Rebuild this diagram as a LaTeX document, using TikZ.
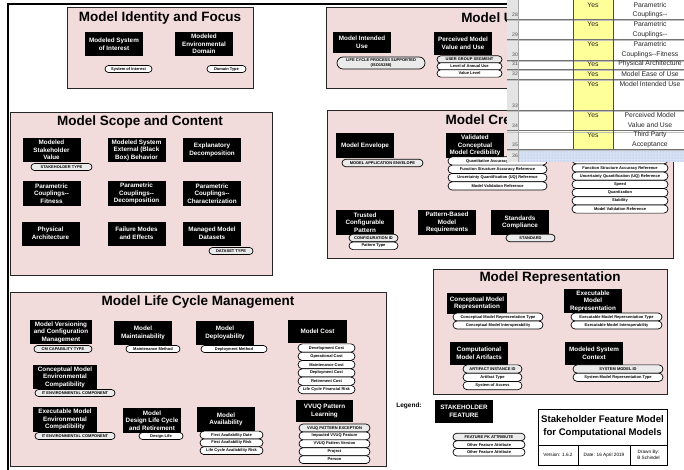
\documentclass[tikz,border=0pt]{standalone}
\usepackage{fontspec}
\setmainfont{Liberation Sans}
\usetikzlibrary{shapes.misc,patterns}
\definecolor{secpink}{RGB}{242,220,219}
\definecolor{xlyellow}{RGB}{255,255,153}
\definecolor{xlgrey}{RGB}{228,228,228}
\definecolor{xlhatch}{RGB}{214,226,242}
\tikzset{
 secbox/.style={draw=black!85, line width=0.9pt, fill=secpink, inner sep=0pt},
 sectitle/.style={font=\bfseries\fontsize{13.5}{15}\selectfont, inner sep=0pt},
 featbox/.style={fill=black, text=white, align=center, inner sep=0pt, font=\bfseries\fontsize{6.3}{7.6}\selectfont},
 pillbox/.style={rounded rectangle, draw=black, line width=0.7pt, fill=white, inner sep=0pt, align=center, font=\bfseries\fontsize{4}{4.6}\selectfont},
 pkpill/.style={pillbox, fill=black!8},
 xltext/.style={font=\fontsize{6.8}{8}\selectfont, inner sep=0pt, text=black!85},
 xlnum/.style={font=\fontsize{5}{6}\selectfont, inner sep=0pt, anchor=east, text=black!70},
 xlrow/.style={draw=black!55, line width=0.6pt},
 xlrowlite/.style={draw=black!25, line width=0.5pt},
 xlcol/.style={draw=black!70, line width=0.6pt},
 framel/.style={line width=1.6pt, draw=black},
 tbtext/.style={font=\fontsize{4.7}{5.6}\selectfont, inner sep=0pt, align=center}
}
\newcommand\featnode[6]{\node[featbox,minimum width=#4pt,minimum height=#5pt] (#1) at (#2,#3) {#6};}
\newcommand\pillnode[6]{\node[pillbox,minimum width=#4pt,minimum height=#5pt] (#1) at (#2,#3) {#6};}
\newcommand\pknode[6]{\node[pkpill,minimum width=#4pt,minimum height=#5pt] (#1) at (#2,#3) {#6};}
\begin{document}
\begin{tikzpicture}[x=1pt,y=-1pt]
\useasboundingbox (0,0) rectangle (684,470);
\fill[white] (0,0) rectangle (684,470);
% outer frame
\coordinate (fa) at (8,470);
\coordinate (fb) at (8,4);
\coordinate (fc) at (684,4);
\draw[framel] (fa) -- (fb) -- (fc);

% ===== Model Identity and Focus
\node[secbox,minimum width=186pt,minimum height=81pt] (sid) at (160,47.5) {};
\node[sectitle] (sidt) at (160,18) {Model Identity and Focus};
\featnode{id1}{114}{44}{58}{24}{Modeled System\\of Interest}
\pillnode{id1a}{128.5}{69}{47}{7}{System of Interest}
\featnode{id2}{204}{44}{58}{24}{Modeled\\Environmental\\Domain}
\pillnode{id2a}{226.5}{69}{39}{7}{Domain Type}

% ===== Model Use
\node[secbox,minimum width=347pt,minimum height=81pt] (suse) at (499.5,47.5) {};
\node[sectitle] (suset) at (495,18) {Model Use};
\featnode{us1}{362}{42.5}{58}{21}{Model Intended\\Use}
\pknode{us1a}{381}{63}{88}{12}{LIFE CYCLE PROCESS SUPPORTED\\(ISO15288)}
\featnode{us2}{463}{43.5}{58}{23}{Perceived Model\\Value and Use}
\pknode{us2a}{469.5}{59.5}{65}{7.3}{USER GROUP SEGMENT}
\pillnode{us2b}{469.5}{66.5}{65}{7.3}{Level of Annual Use}
\pillnode{us2c}{469.5}{73.5}{65}{7.3}{Value Level}

% ===== Model Scope and Content
\node[secbox,minimum width=262pt,minimum height=163pt] (ssc) at (141,193.5) {};
\node[sectitle] (ssct) at (140,122) {Model Scope and Content};
\featnode{sc1}{51.5}{150}{58}{24}{Modeled\\Stakeholder\\Value}
\pknode{sc1a}{61.5}{167}{61}{7}{STAKEHOLDER TYPE}
\featnode{sc2}{136.5}{150}{58}{24}{Modeled System\\External (Black\\Box) Behavior}
\featnode{sc3}{212}{150}{58}{24}{Explanatory\\Decomposition}
\featnode{sc4}{51.5}{193.5}{58}{24}{Parametric\\Couplings-{}-\\Fitness}
\featnode{sc5}{136.5}{193.5}{58}{24}{Parametric\\Couplings-{}-\\Decomposition}
\featnode{sc6}{212}{193.5}{58}{24}{Parametric\\Couplings-{}-\\Characterization}
\featnode{sc7}{50.5}{233.5}{58}{24}{Physical\\Architecture}
\featnode{sc8}{136.5}{233.5}{58}{24}{Failure Modes\\and Effects}
\featnode{sc9}{212}{233.5}{58}{24}{Managed Model\\Datasets}
\pknode{sc9a}{231}{251}{44}{7}{DATASET TYPE}

% ===== Model Credibility
\node[secbox,minimum width=346pt,minimum height=148pt] (scr) at (500,184) {};
\node[sectitle] (scrt) at (500,121) {Model Credibility};
\featnode{cr1}{365}{145.5}{58}{25}{Model Envelope}
\pknode{cr1a}{382.5}{163}{81}{7.5}{MODEL APPLICATION ENVELOPE}
\featnode{cr2}{475}{145.5}{58}{25}{Validated\\Conceptual\\Model Credibility}
\pillnode{cr2a}{497.5}{161}{99}{8.3}{Quantitative Accuracy Reference}
\pillnode{cr2b}{497.5}{169.3}{99}{8.3}{Function Structure Accuracy Reference}
\pillnode{cr2c}{497.5}{177.6}{99}{8.3}{Uncertainty Quantification (UQ) Reference}
\pillnode{cr2d}{497.5}{185.9}{99}{8.3}{Model Validation Reference}
\pillnode{cr3a}{620}{159.8}{96}{8.2}{}
\pillnode{cr3b}{620}{168}{96}{8.2}{Function Structure Accuracy Reference}
\pillnode{cr3c}{620}{176.2}{96}{8.2}{Uncertainty Quantification (UQ) Reference}
\pillnode{cr3d}{620}{184.4}{96}{8.2}{Speed}
\pillnode{cr3e}{620}{192.6}{96}{8.2}{Quantization}
\pillnode{cr3f}{620}{200.8}{96}{8.2}{Stability}
\pillnode{cr3g}{620}{209}{96}{8.2}{Model Validation Reference}
\featnode{cr4}{365}{222.5}{58}{25}{Trusted\\Configurable\\Pattern}
\pknode{cr4a}{373.5}{238}{49}{7.6}{CONFIGURATION ID}
\pillnode{cr4b}{373.5}{245.8}{49}{7.6}{Pattern Type}
\featnode{cr5}{447}{222.5}{58}{25}{Pattern-Based\\Model\\Requirements}
\featnode{cr6}{520}{222.5}{58}{25}{Standards\\Compliance}
\pknode{cr6a}{530.5}{238}{49}{7.6}{STANDARD}

% ===== Model Life Cycle Management
\node[secbox,minimum width=376pt,minimum height=174pt] (slc) at (198,379) {};
\node[sectitle] (slct) at (198,302) {Model Life Cycle Management};
\featnode{lc1}{61}{332}{62}{24}{Model Versioning\\and Configuration\\Management}
\pknode{lc1a}{63}{349}{58}{7}{CM CAPABILITY TYPE}
\featnode{lc2}{143}{333}{58}{24}{Model\\Maintainability}
\pillnode{lc2a}{153}{349}{54}{7}{Maintenance Method}
\featnode{lc3}{225}{333}{58}{24}{Model\\Deployability}
\pillnode{lc3a}{234}{349}{66}{7}{Deployment Method}
\featnode{lc4}{317.5}{331.5}{59}{23}{Model Cost}
\pillnode{lc4a}{326.5}{348}{57}{8.3}{Development Cost}
\pillnode{lc4b}{326.5}{356.3}{57}{8.3}{Operational Cost}
\pillnode{lc4c}{326.5}{364.6}{57}{8.3}{Maintenance Cost}
\pillnode{lc4d}{326.5}{372.9}{57}{8.3}{Deployment Cost}
\pillnode{lc4e}{326.5}{381.2}{57}{8.3}{Retirement Cost}
\pillnode{lc4f}{326.5}{389.5}{57}{8.3}{Life Cycle Financial Risk}
\featnode{lc5}{65}{377}{64}{24}{Conceptual Model\\Environmental\\Compatibility}
\pknode{lc5a}{75}{393}{80}{7}{IT ENVIRONMENTAL COMPONENT}
\featnode{lc6}{65}{419.5}{64}{25}{Executable Model\\Environmental\\Compatibility}
\pknode{lc6a}{75}{436}{80}{7}{IT ENVIRONMENTAL COMPONENT}
\featnode{lc7}{152}{420.5}{58}{25}{Model\\Design Life Cycle\\and Retirement}
\pillnode{lc7a}{161}{436}{44}{7}{Design Life}
\featnode{lc8}{226}{419.5}{58}{25}{Model\\Availability}
\pillnode{lc8a}{231.5}{435}{63}{7.8}{First Availability Date}
\pillnode{lc8b}{231.5}{442.8}{63}{7.8}{First Availability Risk}
\pillnode{lc8c}{231.5}{450.6}{63}{7.8}{Life Cycle Availability Risk}
\featnode{lc9}{324.5}{411}{57}{22}{VVUQ Pattern\\Learning}
\pknode{lc9a}{334.5}{428}{71}{7.9}{VVUQ PATTERN EXCEPTION}
\pillnode{lc9b}{334.5}{435.9}{71}{7.9}{Impacted VVUQ Feature}
\pillnode{lc9c}{334.5}{443.8}{71}{7.9}{VVUQ Pattern Version}
\pillnode{lc9d}{334.5}{451.7}{71}{7.9}{Project}
\pillnode{lc9e}{334.5}{459.6}{71}{7.9}{Person}

% ===== Model Representation
\node[secbox,minimum width=234pt,minimum height=125pt] (srp) at (550,331.5) {};
\node[sectitle] (srpt) at (550,278) {Model Representation};
\featnode{rp1}{477}{303.5}{60}{21}{Conceptual Model\\Representation}
\pillnode{rp1a}{498}{317}{90}{8}{Conceptual Model Representation Type}
\pillnode{rp1b}{498}{325}{90}{8}{Conceptual Model Interoperability}
\featnode{rp2}{593}{301}{58}{24}{Executable\\Model\\Representation}
\pillnode{rp2a}{616.5}{317}{91}{8}{Executable Model Representation Type}
\pillnode{rp2b}{616.5}{325}{91}{8}{Executable Model Interoperability}
\featnode{rp3}{479}{353.5}{58}{23}{Computational\\Model Artifacts}
\pknode{rp3a}{492.5}{369}{59}{8.3}{ARTIFACT INSTANCE ID}
\pillnode{rp3b}{492.5}{377.3}{59}{8.3}{Artifact Type}
\pillnode{rp3c}{492.5}{385.6}{59}{8.3}{System of Access}
\featnode{rp4}{594}{353.5}{58}{23}{Modeled System\\Context}
\pknode{rp4a}{618}{369}{90}{8.3}{SYSTEM MODEL ID}
\pillnode{rp4b}{618}{377.3}{90}{8.3}{System Model Representation Type}

% ===== Legend
\node[font=\bfseries\fontsize{6.5}{7.5}\selectfont, inner sep=0pt] (lgt) at (409,406) {Legend:};
\featnode{lg1}{464}{411.5}{58}{23}{STAKEHOLDER\\FEATURE}
\pknode{lg1a}{489}{437}{72}{7.6}{FEATURE PK ATTRIBUTE}
\pillnode{lg1b}{489}{444.6}{72}{7.6}{Other Feature Attribute}
\pillnode{lg1c}{489}{452.2}{72}{7.6}{Other Feature Attribute}

% ===== Title block
\node[draw=black, line width=0.8pt, minimum width=129pt, minimum height=56pt, inner sep=0pt] (tb) at (602.5,437) {};
\node[inner sep=0pt, align=center, font=\bfseries\fontsize{9.6}{13}\selectfont] (tbt) at (602.5,427) {Stakeholder Feature Model\\for Computational Models};
\coordinate (tbl) at (538,445);
\coordinate (tbr) at (667,445);
\draw[line width=0.6pt] (tbl) -- (tbr);
\coordinate (tbd1) at (578,445);
\coordinate (tbd1b) at (578,465);
\coordinate (tbd2) at (630,445);
\coordinate (tbd2b) at (630,465);
\draw[line width=0.6pt] (tbd1) -- (tbd1b) (tbd2) -- (tbd2b);
\node[tbtext] (tbv) at (558,455) {Version: 1.6.2};
\node[tbtext] (tbdt) at (604,455) {Date: 16 April 2019};
\node[tbtext] (tbdb) at (648.5,455) {Drawn By:\\B Schindel};

% ===== Spreadsheet overlay
\fill[white] (507,0) rectangle (684,162);
\fill[xlgrey] (507,0) rectangle (518,162);
\fill[xlyellow] (573,0) rectangle (613,149.3);
\fill[xlhatch] (518,149.3) rectangle (684,162);
\fill[pattern=dots, pattern color=blue!35!white] (518,149.3) rectangle (684,162);
\foreach \yy in {19.3,39.3,60,69.3,79.3,110,130.7,149.3}{
  \draw[xlrow] (507,\yy) -- (684,\yy);
  \draw[xlrowlite] (507,\yy+1.1) -- (684,\yy+1.1);
}
\draw[draw=black!35, line width=0.5pt] (518,0) -- (518,162);
\draw[xlcol] (573,0) -- (573,149.3);
\draw[xlcol] (613,0) -- (613,149.3);
% row numbers
\node[xlnum] (rn28) at (518,15) {28};
\node[xlnum] (rn29) at (518,35) {29};
\node[xlnum] (rn30) at (518,54.5) {30};
\node[xlnum] (rn31) at (518,63.5) {31};
\node[xlnum] (rn32) at (518,74) {32};
\node[xlnum] (rn33) at (518,106) {33};
\node[xlnum] (rn34) at (518,126) {34};
\node[xlnum] (rn35) at (518,145) {35};
\node[xlnum] (rn36) at (518,155.5) {36};
% yes column
\foreach \yy/\nm in {5/y28,24.3/y29,44.3/y30,64/y31,74/y32,84/y33,115/y34,135/y35}{
  \node[xltext] (\nm) at (593,\yy) {Yes};
}
% text column
\node[xltext] (t28a) at (650,5) {Parametric};
\node[xltext] (t28b) at (650,15) {Couplings-{}-};
\node[xltext] (t29a) at (650,24.3) {Parametric};
\node[xltext] (t29b) at (650,34.3) {Couplings-{}-};
\node[xltext] (t30a) at (650,44.3) {Parametric};
\node[xltext] (t30b) at (650,54.3) {Couplings-{}-Fitness};
\node[xltext] (t31) at (650,64) {Physical Architecture};
\node[xltext] (t32) at (650,74) {Model Ease of Use};
\node[xltext] (t33) at (650,84) {Model Intended Use};
\node[xltext] (t34a) at (650,115) {Perceived Model};
\node[xltext] (t34b) at (650,125) {Value and Use};
\node[xltext] (t35a) at (650,135) {Third Party};
\node[xltext] (t35b) at (650,145) {Acceptance};
\end{tikzpicture}
\end{document}
